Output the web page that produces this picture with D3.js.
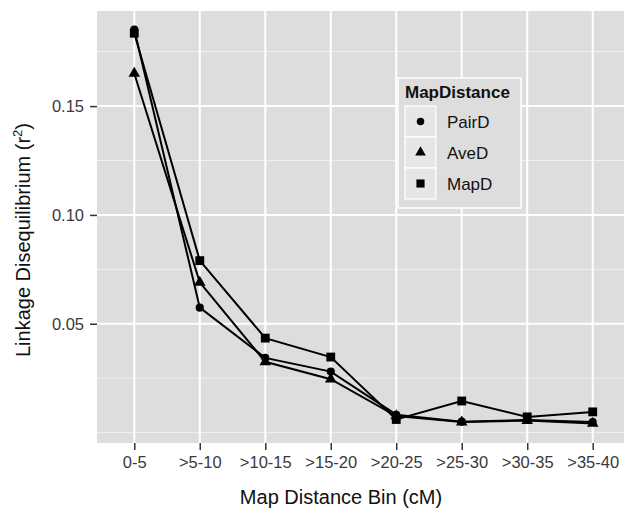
<!DOCTYPE html>
<html>
<head>
<meta charset="utf-8">
<script src="https://cdn.jsdelivr.net/npm/d3@7"></script>
<style>
  body { margin: 0; background: #fff; }
  text { font-family: "Liberation Sans", Arial, sans-serif; }
</style>
</head>
<body>
<div id="chart"></div>
<script>
// data
const bins = ["0-5", ">5-10", ">10-15", ">15-20", ">20-25", ">25-30", ">30-35", ">35-40"];
const pairD = [0.1852, 0.0574, 0.0343, 0.0280, 0.0082, 0.0050, 0.0058, 0.0048];
const aveD  = [0.1650, 0.0690, 0.0325, 0.0245, 0.0076, 0.0048, 0.0055, 0.0042];
const mapD  = [0.1835, 0.0790, 0.0434, 0.0347, 0.0060, 0.0145, 0.0072, 0.0095];
const seriesNames = ["PairD", "AveD", "MapD"];
const yMajor = [0.05, 0.10, 0.15];
const yMinor = [0, 0.025, 0.075, 0.125, 0.175];

const width = 624, height = 510;
const panel = {left: 97, right: 624, top: 11, bottom: 443};

const svg = d3.select("#chart")
    .append("svg")
    .attr("width", width)
    .attr("height", height);

const xScale = d3.scalePoint()
    .domain(bins)
    .range([95, 632])
    .padding(0.6);

const yScale = d3.scaleLinear()
    .domain([-0.0048, 0.1937])
    .range([panel.bottom, panel.top]);

const symbols = {PairD: d3.symbolCircle, AveD: d3.symbolTriangle, MapD: d3.symbolSquare};
const symSize = {PairD: 52, AveD: 58, MapD: 78};

const series = [
    {name: "PairD", values: pairD},
    {name: "AveD", values: aveD},
    {name: "MapD", values: mapD}
];

// panel background
svg.append("rect")
    .attr("x", panel.left)
    .attr("y", panel.top)
    .attr("width", panel.right - panel.left)
    .attr("height", panel.bottom - panel.top)
    .attr("fill", "#dddddd");

// grid lines
svg.append("g")
    .selectAll("line")
    .data(yMinor)
    .join("line")
        .attr("x1", panel.left)
        .attr("x2", panel.right)
        .attr("y1", d => yScale(d))
        .attr("y2", d => yScale(d))
        .attr("stroke", "#f0f0f0")
        .attr("stroke-width", 1);

svg.append("g")
    .selectAll("line")
    .data(yMajor)
    .join("line")
        .attr("x1", panel.left)
        .attr("x2", panel.right)
        .attr("y1", d => yScale(d))
        .attr("y2", d => yScale(d))
        .attr("stroke", "#ffffff")
        .attr("stroke-width", 2);

svg.append("g")
    .selectAll("line")
    .data(bins)
    .join("line")
        .attr("x1", d => xScale(d))
        .attr("x2", d => xScale(d))
        .attr("y1", panel.top)
        .attr("y2", panel.bottom)
        .attr("stroke", "#ffffff")
        .attr("stroke-width", 2);

// axes
const xAxis = d3.axisBottom(xScale).tickSize(7).tickPadding(6);
const yAxis = d3.axisLeft(yScale).tickValues(yMajor).tickFormat(d3.format(".2f")).tickSize(7).tickPadding(6);

const gx = svg.append("g")
    .attr("transform", `translate(0,${panel.bottom})`)
    .call(xAxis);
gx.select(".domain").remove();
gx.selectAll(".tick line").attr("stroke", "#333").attr("stroke-width", 1.5);
gx.selectAll(".tick text")
    .attr("font-size", 16.5)
    .attr("font-family", "Liberation Sans, Arial, sans-serif")
    .attr("fill", "#3a3a3a");

const gy = svg.append("g")
    .attr("transform", `translate(${panel.left},0)`)
    .call(yAxis);
gy.select(".domain").remove();
gy.selectAll(".tick line").attr("stroke", "#333").attr("stroke-width", 1.5);
gy.selectAll(".tick text")
    .attr("font-size", 16.5)
    .attr("font-family", "Liberation Sans, Arial, sans-serif")
    .attr("fill", "#3a3a3a");

// lines and points
const lineGenerator = d3.line()
    .x((d, i) => xScale(bins[i]))
    .y(d => yScale(d));

const plot = svg.append("g");

plot.selectAll("path.series")
    .data(series)
    .join("path")
        .attr("class", "series")
        .attr("d", d => lineGenerator(d.values))
        .attr("fill", "none")
        .attr("stroke", "#000")
        .attr("stroke-width", 2);

series.forEach(s => {
    plot.append("g")
        .selectAll("path")
        .data(s.values)
        .join("path")
            .attr("transform", (d, i) => `translate(${xScale(bins[i])},${yScale(d)})`)
            .attr("d", d3.symbol().type(symbols[s.name]).size(symSize[s.name]))
            .attr("fill", "#000");
});

// axis titles
svg.append("text")
    .text("Map Distance Bin (cM)")
    .attr("x", 341)
    .attr("y", 504)
    .attr("text-anchor", "middle")
    .attr("font-size", 20)
    .attr("fill", "#111");

const yTitle = svg.append("text")
    .attr("transform", "translate(30,240) rotate(-90)")
    .attr("text-anchor", "middle")
    .attr("font-size", 20)
    .attr("fill", "#111");
yTitle.append("tspan").text("Linkage Disequilibrium (r");
yTitle.append("tspan").text("2").attr("font-size", 13).attr("dy", -8);
yTitle.append("tspan").text(")").attr("dy", 8);

// legend
const legend = svg.append("g");
legend.append("rect")
    .attr("x", 398)
    .attr("y", 78)
    .attr("width", 123)
    .attr("height", 130)
    .attr("fill", "#dddddd")
    .attr("stroke", "#ffffff")
    .attr("stroke-width", 1.5);

legend.append("text")
    .text("MapDistance")
    .attr("x", 405)
    .attr("y", 98)
    .attr("font-size", 17)
    .attr("font-weight", "bold")
    .attr("fill", "#111");

const keyY = d3.scaleBand().domain(seriesNames).range([106, 199]);

const keys = legend.selectAll("g.key")
    .data(seriesNames)
    .join("g")
        .attr("class", "key")
        .attr("transform", d => `translate(405,${keyY(d)})`);

keys.append("rect")
    .attr("width", 31)
    .attr("height", keyY.bandwidth())
    .attr("fill", "#e6e6e6")
    .attr("stroke", "#ffffff")
    .attr("stroke-width", 1.2);

keys.append("path")
    .attr("transform", `translate(15.5,${keyY.bandwidth() / 2})`)
    .attr("d", d => d3.symbol().type(symbols[d]).size(symSize[d] * 0.85)())
    .attr("fill", "#000");

keys.append("text")
    .text(d => d)
    .attr("x", 42)
    .attr("y", keyY.bandwidth() / 2)
    .attr("dy", "0.36em")
    .attr("font-size", 17)
    .attr("fill", "#111");
</script>
</body>
</html>
